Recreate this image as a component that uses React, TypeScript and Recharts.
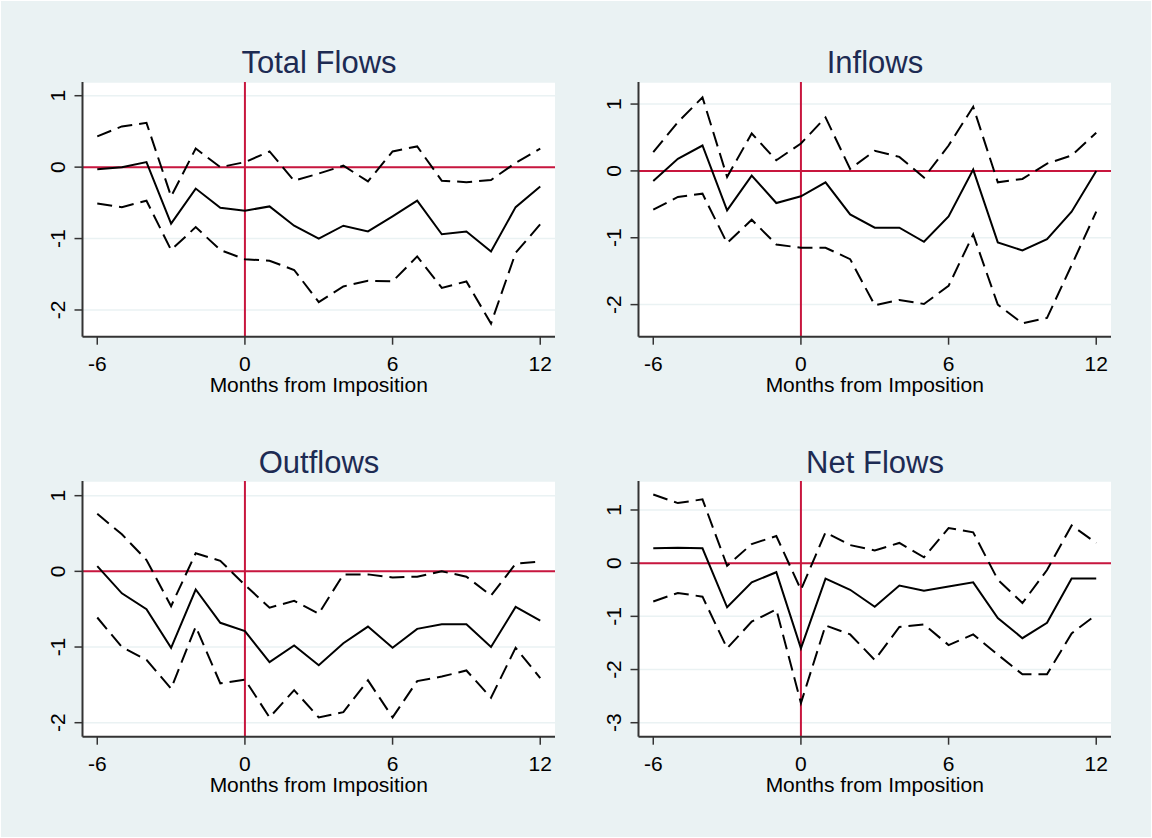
import { CartesianGrid, Line, LineChart, ReferenceLine, XAxis, YAxis } from "recharts";

const months = [-6, -5, -4, -3, -2, -1, 0, 1, 2, 3, 4, 5, 6, 7, 8, 9, 10, 11, 12];

// Total Flows
const totalEst = [-0.03, 0.0, 0.07, -0.79, -0.3, -0.57, -0.61, -0.55, -0.82, -1.0, -0.82, -0.9, -0.69, -0.47, -0.94, -0.9, -1.18, -0.56, -0.27];
const totalHi = [0.43, 0.57, 0.62, -0.41, 0.26, 0.0, 0.07, 0.22, -0.19, -0.09, 0.02, -0.2, 0.22, 0.29, -0.19, -0.21, -0.18, 0.06, 0.26];
const totalLo = [-0.51, -0.56, -0.47, -1.16, -0.84, -1.16, -1.29, -1.31, -1.44, -1.89, -1.67, -1.59, -1.6, -1.25, -1.69, -1.6, -2.19, -1.2, -0.8];

// Inflows
const inEst = [-0.15, 0.18, 0.38, -0.59, -0.07, -0.48, -0.38, -0.17, -0.65, -0.85, -0.85, -1.06, -0.68, 0.02, -1.07, -1.19, -1.02, -0.61, 0.0];
const inHi = [0.28, 0.73, 1.1, -0.09, 0.56, 0.16, 0.41, 0.8, 0.03, 0.3, 0.21, -0.1, 0.38, 0.96, -0.17, -0.12, 0.11, 0.23, 0.57];
const inLo = [-0.58, -0.39, -0.34, -1.08, -0.73, -1.1, -1.15, -1.15, -1.32, -2.01, -1.93, -1.99, -1.72, -0.95, -2.0, -2.28, -2.2, -1.41, -0.61];

// Outflows
const outEst = [0.07, -0.29, -0.5, -1.01, -0.24, -0.68, -0.79, -1.2, -0.98, -1.24, -0.95, -0.73, -1.01, -0.76, -0.7, -0.7, -1.0, -0.47, -0.65];
const outHi = [0.76, 0.49, 0.15, -0.46, 0.24, 0.14, -0.18, -0.48, -0.39, -0.56, -0.04, -0.04, -0.08, -0.07, 0.0, -0.07, -0.32, 0.1, 0.13];
const outLo = [-0.61, -1.0, -1.17, -1.55, -0.73, -1.48, -1.43, -1.93, -1.57, -1.93, -1.86, -1.44, -1.93, -1.45, -1.39, -1.31, -1.67, -1.01, -1.41];

// Net Flows
const netEst = [0.28, 0.29, 0.28, -0.83, -0.36, -0.17, -1.6, -0.29, -0.5, -0.82, -0.42, -0.52, -0.44, -0.36, -1.03, -1.41, -1.12, -0.29, -0.29];
const netHi = [1.29, 1.13, 1.2, -0.05, 0.36, 0.51, -0.5, 0.58, 0.34, 0.24, 0.38, 0.11, 0.66, 0.58, -0.31, -0.75, -0.13, 0.71, 0.38];
const netLo = [-0.72, -0.56, -0.63, -1.6, -1.1, -0.87, -2.63, -1.17, -1.34, -1.82, -1.2, -1.15, -1.54, -1.34, -1.72, -2.09, -2.09, -1.32, -0.97];

const xTicks = [-6, 0, 6, 12];
const yTicksA = [-2, -1, 0, 1];
const yTicksB = [-3, -2, -1, 0, 1];

const FONT = "'Liberation Sans', Arial, Helvetica, sans-serif";
const BG = "#eaf2f3";
const RED = "#c8163e";
const NAVY = "#1d2b53";

function build(est: number[], hi: number[], lo: number[]) {
  return months.map((m, i) => ({ m, est: est[i], hi: hi[i], lo: lo[i] }));
}

const panels = [
  { title: "Total Flows", data: build(totalEst, totalHi, totalLo), domain: [-2.374, 1.192], ticks: yTicksA, left: 0, top: 0, mt: 82 },
  { title: "Inflows", data: build(inEst, inHi, inLo), domain: [-2.48, 1.33], ticks: yTicksA, left: 556, top: 0, mt: 82 },
  { title: "Outflows", data: build(outEst, outHi, outLo), domain: [-2.185, 1.194], ticks: yTicksA, left: 0, top: 400, mt: 81 },
  { title: "Net Flows", data: build(netEst, netHi, netLo), domain: [-3.263, 1.545], ticks: yTicksB, left: 556, top: 400, mt: 81 },
];

function YTick({ x, y, payload }: any) {
  return (
    <text
      transform={`translate(${x - 9.5},${y}) rotate(-90)`}
      textAnchor="middle"
      fontFamily={FONT}
      fontSize={21}
      fill="#000"
    >
      {payload.value}
    </text>
  );
}

function XTick({ x, y, payload }: any) {
  return (
    <text x={x} y={y + 26} textAnchor="middle" fontFamily={FONT} fontSize={21} fill="#000">
      {payload.value}
    </text>
  );
}

function XLabel({ viewBox }: any) {
  const cx = viewBox.x + viewBox.width / 2;
  return (
    <text x={cx} y={viewBox.y + 55} textAnchor="middle" fontFamily={FONT} fontSize={21} fill="#000">
      Months from Imposition
    </text>
  );
}

function Panel({ p }: { p: (typeof panels)[number] }) {
  return (
    <div style={{ position: "absolute", left: p.left, top: p.top }}>
      <svg width={556} height={100} style={{ position: "absolute", left: 0, top: 0 }}>
        <text x={319} y={73} textAnchor="middle" fontFamily={FONT} fontSize={31} fill={NAVY}>
          {p.title}
        </text>
      </svg>
      <LineChart
        width={556}
        height={400}
        data={p.data}
        margin={{ top: p.mt, right: 1, bottom: 0, left: 0 }}
        style={{ position: "absolute", left: 0, top: 0 }}
      >
        <CartesianGrid horizontal vertical={false} stroke={BG} strokeWidth={1.5} fill="#fff" />
        <XAxis
          dataKey="m"
          type="number"
          domain={[-6.6, 12.6]}
          allowDataOverflow
          ticks={xTicks}
          height={63.3}
          tickSize={8}
          tickMargin={0}
          tick={<XTick />}
          axisLine={{ stroke: "#333", strokeWidth: 2 }}
          tickLine={{ stroke: "#333", strokeWidth: 1.5 }}
          label={<XLabel />}
        />
        <YAxis
          type="number"
          domain={p.domain}
          allowDataOverflow
          ticks={p.ticks}
          width={82.5}
          tickSize={8}
          tickMargin={0}
          tick={<YTick />}
          axisLine={{ stroke: "#333", strokeWidth: 2 }}
          tickLine={{ stroke: "#333", strokeWidth: 1.5 }}
        />
        <ReferenceLine x={0} stroke={RED} strokeWidth={2} />
        <ReferenceLine y={0} stroke={RED} strokeWidth={2} />
        <Line dataKey="hi" stroke="#000" strokeWidth={2} strokeDasharray="15 7" dot={false} isAnimationActive={false} />
        <Line dataKey="lo" stroke="#000" strokeWidth={2} strokeDasharray="15 7" dot={false} isAnimationActive={false} />
        <Line dataKey="est" stroke="#000" strokeWidth={2} dot={false} isAnimationActive={false} />
      </LineChart>
    </div>
  );
}

export default function App() {
  return (
    <div style={{ position: "relative", width: 1152, height: 838, background: "#fff", fontFamily: FONT }}>
      <style>{`body{margin:0}`}</style>
      <div style={{ position: "absolute", left: 1, top: 1, width: 1150, height: 836, background: BG }}>
        <div style={{ position: "absolute", left: -1, top: -1 }}>
          {panels.map((p) => (
            <Panel key={p.title} p={p} />
          ))}
        </div>
      </div>
    </div>
  );
}
